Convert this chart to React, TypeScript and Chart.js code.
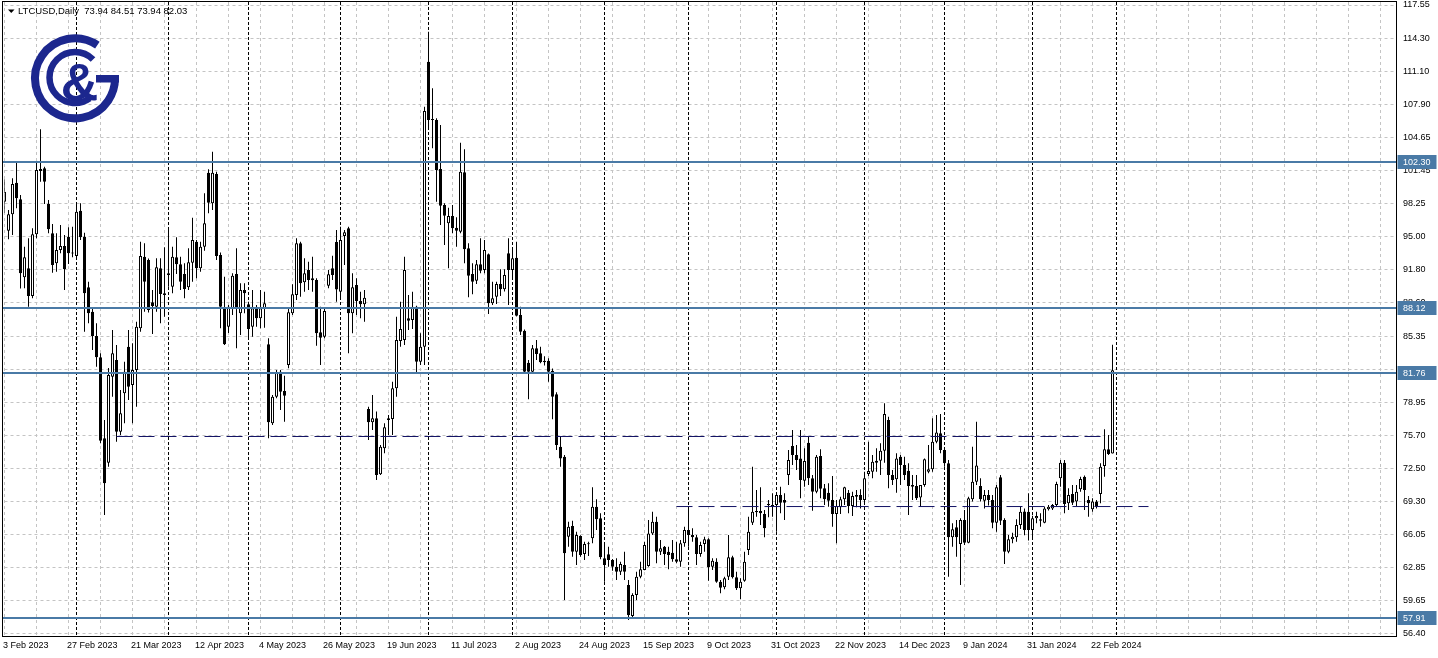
import React, { useEffect, useRef } from 'react';
import { Chart, registerables } from 'chart.js';

Chart.register(...registerables);

// ---- Daily candles LTCUSD, 3 Feb 2023 .. 29 Feb 2024 (weekdays) ----
const OPEN = [
  98.43, 95.6, 97.2, 100.28, 98.66, 91.08, 91.95, 89.26, 95.26, 101.6,
  101.67, 98.2, 95.35, 92.44, 93.73, 94.12, 95.02, 93.45, 93.15, 97.55,
  95.02, 90.1, 87.73, 85.37, 83.3, 75.42, 73.05, 81.42, 83.04, 76.07,
  79.8, 84.33, 80.61, 82.07, 86.12, 93.08, 92.76, 88.64, 88.22, 91.95,
  89.52, 91.3, 90.16, 93.02, 92.34, 91.4, 90.1, 92.5, 94.54, 91.95,
  94.05, 101.25, 98.27, 101.12, 93.25, 88.16, 86.27, 88.06, 91.4, 87.57,
  89.84, 88.45, 86.27, 88.06, 87.09, 88.0, 84.56, 76.88, 79.47, 81.9,
  80.02, 82.55, 87.57, 89.36, 94.38, 90.59, 91.79, 90.98, 90.81, 85.73,
  85.3, 90.26, 91.95, 94.5, 89.68, 95.09, 95.84, 87.57, 90.33, 88.77,
  88.45, 78.27, 76.98, 77.37, 71.93, 74.45, 77.2, 77.3, 80.28, 84.88,
  84.98, 87.09, 86.93, 88.22, 82.87, 84.33, 112.04, 106.47, 106.37, 101.6,
  98.11, 96.33, 97.04, 95.9, 95.51, 101.28, 93.89, 91.4, 90.75, 92.34,
  91.79, 93.31, 88.55, 89.19, 90.43, 89.91, 93.41, 91.79, 92.98, 87.41,
  85.89, 82.78, 81.9, 84.17, 83.69, 82.97, 82.97, 81.99, 79.7, 74.61,
  73.64, 65.86, 66.9, 64.4, 65.92, 64.18, 65.21, 65.7, 68.77, 67.65,
  63.76, 64.14, 63.59, 62.94, 62.46, 63.11, 61.16, 58.14, 60.19, 61.97,
  62.62, 63.0, 66.18, 67.32, 64.4, 64.89, 64.4, 64.3, 63.66, 63.43,
  65.21, 66.51, 66.02, 65.8, 64.18, 65.15, 65.6, 62.94, 63.43, 61.48,
  60.94, 61.97, 63.85, 61.91, 60.84, 61.58, 64.57, 67.22, 68.36, 68.36,
  68.07, 68.94, 68.94, 68.94, 69.91, 69.43, 71.86, 74.67, 73.8, 73.47,
  71.3, 74.99, 71.53, 70.23, 73.7, 70.56, 70.14, 69.43, 68.07, 68.71,
  69.49, 70.14, 68.84, 69.91, 69.91, 69.43, 71.95, 72.18, 73.05, 73.25,
  74.22, 77.2, 71.86, 71.44, 73.64, 72.83, 72.27, 70.88, 70.79, 69.68,
  70.88, 72.18, 72.41, 75.1, 75.91, 74.29, 72.99, 65.8, 66.77, 65.15,
  67.48, 65.28, 69.49, 71.2, 70.79, 69.36, 69.91, 69.43, 67.22, 71.63,
  67.48, 64.4, 65.6, 65.8, 66.99, 68.3, 68.29, 66.5, 67.65, 67.55,
  67.22, 68.52, 68.61, 68.94, 71.53, 73.05, 69.1, 70.01, 69.27, 70.46,
  71.69, 69.43, 68.52, 69.27, 70.01, 72.73, 74.35, 73.94,
];
const HIGH = [
  100.6, 97.62, 100.7, 102.32, 99.08, 94.05, 94.87, 95.84, 102.32, 105.47,
  101.83, 98.59, 96.26, 95.35, 96.16, 95.19, 95.94, 96.0, 98.11, 98.27,
  95.41, 90.65, 88.12, 86.6, 83.69, 77.2, 82.26, 85.95, 84.5, 80.12,
  82.87, 85.95, 84.66, 86.76, 94.54, 94.38, 92.9, 89.84, 92.92, 92.92,
  93.99, 95.67, 94.05, 94.97, 93.08, 92.44, 93.89, 96.87, 94.7, 94.54,
  99.24, 101.58, 103.29, 101.34, 93.5, 91.13, 88.39, 91.46, 93.89, 90.49,
  90.49, 88.7, 89.84, 88.38, 89.84, 89.68, 85.14, 79.63, 82.07, 82.07,
  81.51, 87.99, 90.39, 94.87, 94.54, 92.92, 92.6, 93.08, 90.98, 88.22,
  88.06, 91.79, 93.18, 95.67, 96.0, 95.67, 96.0, 91.46, 90.98, 89.68,
  89.84, 78.5, 79.63, 78.02, 74.77, 76.88, 77.69, 80.93, 87.25, 88.7,
  93.08, 89.36, 89.68, 88.3, 85.63, 107.66, 114.95, 109.45, 106.53, 105.88,
  98.27, 97.84, 98.11, 96.91, 104.16, 103.52, 94.38, 92.44, 92.76, 94.87,
  94.7, 93.4, 90.65, 90.65, 91.85, 91.85, 94.87, 93.89, 94.54, 88.22,
  86.0, 83.04, 84.5, 84.98, 84.33, 83.4, 83.2, 82.2, 79.9, 75.58,
  73.8, 67.32, 67.41, 66.34, 66.0, 65.37, 65.37, 70.66, 69.49, 68.13,
  65.05, 64.89, 63.7, 63.76, 63.43, 64.4, 61.65, 60.35, 62.46, 63.43,
  65.37, 67.48, 68.29, 67.8, 65.54, 64.95, 64.89, 65.54, 65.37, 65.54,
  66.83, 68.77, 66.67, 66.02, 65.37, 65.86, 65.7, 63.76, 63.76, 61.65,
  61.97, 66.02, 64.0, 62.46, 61.81, 64.4, 67.8, 72.66, 70.4, 70.66,
  68.45, 69.43, 70.08, 70.08, 70.72, 70.08, 74.29, 76.23, 74.77, 76.23,
  74.45, 75.58, 71.86, 73.8, 74.35, 70.98, 71.05, 71.76, 69.43, 69.75,
  70.72, 70.4, 70.23, 70.4, 70.46, 72.18, 75.1, 73.8, 74.45, 74.94,
  78.83, 77.52, 72.34, 73.96, 73.8, 73.64, 72.99, 71.86, 71.86, 70.88,
  73.47, 74.77, 77.37, 77.69, 77.79, 74.3, 73.32, 67.16, 67.48, 67.65,
  68.45, 69.75, 74.61, 77.04, 71.53, 70.4, 70.4, 69.91, 70.88, 71.86,
  67.65, 66.02, 66.25, 67.55, 68.84, 68.6, 70.08, 67.9, 68.29, 68.13,
  68.77, 68.94, 69.04, 71.2, 73.32, 73.32, 70.56, 70.88, 70.88, 71.69,
  71.8, 69.81, 69.59, 69.43, 72.99, 76.3, 75.74, 84.51,
];
const LOW = [
  97.36, 94.77, 95.19, 97.79, 90.0, 90.01, 88.22, 89.04, 94.87, 100.37,
  98.2, 95.35, 91.52, 91.62, 93.41, 89.84, 92.37, 93.02, 92.92, 94.7,
  85.79, 86.6, 84.01, 82.39, 74.94, 67.97, 72.66, 79.47, 75.1, 75.74,
  76.88, 79.15, 76.88, 78.5, 85.79, 87.73, 87.65, 85.57, 87.73, 86.6,
  87.25, 90.16, 89.52, 91.4, 89.84, 89.04, 89.84, 90.65, 90.98, 91.62,
  93.66, 97.3, 97.62, 92.76, 86.12, 84.5, 85.66, 87.41, 84.17, 85.47,
  87.57, 84.98, 85.3, 86.27, 86.12, 86.18, 75.42, 76.72, 79.31, 78.18,
  77.04, 82.23, 87.41, 88.87, 89.19, 89.68, 89.84, 89.68, 84.43, 82.55,
  85.14, 90.01, 90.81, 88.7, 88.9, 92.27, 83.69, 85.63, 87.41, 87.09,
  86.76, 75.26, 76.23, 71.37, 71.86, 73.97, 75.74, 75.74, 79.47, 84.33,
  84.5, 85.95, 86.05, 81.74, 82.55, 82.55, 105.4, 103.62, 98.43, 96.16,
  94.22, 91.95, 95.35, 94.05, 95.35, 92.44, 89.13, 89.42, 90.43, 91.46,
  91.46, 87.51, 88.38, 88.48, 89.26, 89.7, 88.38, 91.1, 87.3, 85.47,
  81.8, 79.22, 81.74, 83.04, 82.71, 82.5, 80.93, 77.27, 74.29, 72.66,
  59.7, 64.89, 63.91, 63.11, 63.9, 63.59, 63.97, 65.21, 66.51, 63.66,
  61.48, 62.94, 62.55, 61.65, 62.14, 61.65, 57.76, 57.9, 59.7, 61.81,
  62.6, 62.94, 66.02, 63.27, 64.08, 63.11, 62.69, 63.43, 63.27, 62.94,
  64.89, 64.89, 65.37, 63.11, 63.91, 64.4, 61.58, 62.62, 61.38, 60.35,
  60.74, 61.65, 61.8, 60.68, 59.77, 61.48, 64.08, 67.0, 67.8, 67.0,
  65.8, 67.74, 67.8, 66.34, 68.13, 67.48, 70.88, 72.83, 72.34, 69.59,
  70.72, 70.88, 68.39, 70.08, 69.59, 68.94, 68.77, 66.83, 65.21, 68.07,
  68.94, 68.13, 67.87, 68.71, 68.61, 68.94, 71.76, 71.53, 72.18, 71.86,
  73.05, 70.56, 70.88, 70.14, 70.88, 71.37, 67.97, 69.43, 69.43, 68.77,
  70.72, 72.02, 72.18, 74.94, 73.97, 72.66, 61.97, 64.89, 63.91, 61.16,
  65.05, 65.21, 69.27, 70.88, 69.27, 68.61, 68.9, 66.67, 66.34, 66.99,
  63.2, 64.25, 65.21, 65.37, 66.6, 66.0, 65.5, 65.8, 67.16, 66.83,
  67.16, 68.4, 68.45, 68.77, 70.72, 68.13, 68.45, 68.94, 68.84, 70.23,
  68.45, 67.8, 68.29, 68.61, 69.1, 71.69, 73.8, 73.94,
];
const CLOSE = [
  99.4, 97.2, 100.15, 98.76, 91.46, 93.02, 89.26, 95.26, 101.51, 101.4,
  100.37, 95.74, 92.27, 93.73, 94.12, 91.85, 93.41, 93.4, 97.45, 94.97,
  89.52, 87.57, 85.37, 83.3, 75.19, 71.05, 81.58, 83.69, 76.07, 77.85,
  81.9, 80.44, 82.07, 86.27, 93.15, 90.65, 87.9, 88.29, 92.05, 89.45,
  89.36, 91.46, 93.08, 92.34, 90.65, 89.94, 92.53, 94.7, 91.95, 94.05,
  96.33, 98.33, 101.25, 93.15, 88.22, 84.56, 88.22, 91.23, 88.06, 89.84,
  89.52, 86.05, 88.06, 87.09, 88.06, 88.55, 76.98, 79.47, 81.8, 79.96,
  79.56, 87.67, 89.42, 94.38, 90.49, 91.46, 90.81, 90.78, 85.63, 85.2,
  87.8, 91.37, 91.3, 89.9, 94.7, 95.45, 87.57, 90.1, 88.77, 88.45,
  89.09, 76.98, 77.37, 71.86, 74.61, 76.49, 77.37, 80.28, 84.98, 86.05,
  91.79, 86.86, 88.12, 82.87, 84.33, 107.24, 106.37, 106.37, 101.51, 98.04,
  97.07, 97.04, 95.84, 95.6, 101.34, 93.8, 91.23, 90.65, 92.34, 91.72,
  93.73, 88.55, 89.04, 90.43, 89.91, 91.3, 91.79, 92.92, 87.34, 85.79,
  81.9, 81.9, 84.17, 83.62, 82.81, 82.81, 81.9, 79.47, 74.77, 73.47,
  64.25, 66.83, 64.4, 66.02, 64.08, 65.15, 65.12, 68.77, 67.55, 63.85,
  63.11, 63.59, 62.94, 62.46, 63.2, 62.46, 58.24, 60.19, 61.97, 62.69,
  65.05, 66.18, 67.32, 64.4, 64.73, 64.18, 64.08, 63.66, 63.43, 65.21,
  66.51, 66.02, 65.8, 64.18, 65.05, 65.6, 62.88, 63.53, 61.48, 60.9,
  61.81, 63.85, 61.91, 60.84, 61.48, 63.43, 66.34, 68.29, 68.23, 68.13,
  66.67, 69.04, 68.77, 69.91, 69.17, 69.17, 73.32, 73.8, 73.32, 71.37,
  73.22, 71.53, 70.23, 73.64, 70.52, 69.49, 69.36, 68.07, 68.84, 69.49,
  70.66, 68.84, 69.81, 69.75, 69.43, 71.53, 72.24, 73.15, 73.25, 74.22,
  77.79, 71.86, 71.37, 73.47, 72.83, 71.86, 70.79, 70.72, 69.59, 70.88,
  73.38, 72.41, 75.1, 76.0, 74.29, 72.99, 65.8, 66.58, 65.8, 67.48,
  65.28, 69.59, 71.2, 72.77, 69.49, 69.91, 69.43, 67.22, 70.66, 67.41,
  64.4, 65.6, 65.86, 66.99, 68.29, 66.5, 66.5, 67.65, 67.87, 67.41,
  68.61, 68.77, 68.94, 70.98, 73.05, 69.04, 69.91, 69.17, 70.23, 71.47,
  70.4, 69.1, 69.27, 68.84, 72.66, 74.35, 73.9, 82.03,
];

// bar slots on the time axis (includes the empty space to the right)
const SLOT_COUNT = 349;
const SLOTS = Array.from({ length: SLOT_COUNT }, (_, i) => String(i));

// date labels, one every 16 bars
const LABEL_EVERY = 16;
const TICK_LABELS = [
  '3 Feb 2023', '27 Feb 2023', '21 Mar 2023', '12 Apr 2023', '4 May 2023',
  '26 May 2023', '19 Jun 2023', '11 Jul 2023', '2 Aug 2023', '24 Aug 2023',
  '15 Sep 2023', '9 Oct 2023', '31 Oct 2023', '22 Nov 2023', '14 Dec 2023',
  '9 Jan 2024', '31 Jan 2024', '22 Feb 2024',
];
const GRID_EVERY = 8;
const GRID_SLOTS = Array.from({ length: Math.floor((SLOT_COUNT - 1) / GRID_EVERY) + 1 }, (_, k) => k * GRID_EVERY);

// first bar of each month (period separators)
const MONTH_STARTS = [18, 41, 61, 84, 106, 127, 150, 171, 193, 215, 235, 257, 278];

// price axis
const Y_MIN = 56.204;
const Y_MAX = 117.842;
const Y_TICKS = [117.55, 114.3, 111.1, 107.9, 104.65, 101.45, 98.25, 95.0, 91.8, 88.6,
  85.35, 82.15, 78.95, 75.7, 72.5, 69.3, 66.05, 62.85, 59.65, 56.4];

// horizontal levels (solid) and dashed trend segments
const LEVELS = [102.3, 88.12, 81.76, 57.91];
const TREND_PRICE = [75.6, 68.79];
const TREND_FROM = [28, 168];
const TREND_TO = [274, 286];

const HEADER = 'LTCUSD,Daily  73.94 84.51 73.94 82.03';

const FONT = 'Liberation Sans';
const GRID_GRAY = '#c4c4c4';
const LEVEL_BLUE = '#4a7aa6';
const TREND_NAVY = '#121265';
const LOGO_BLUE = '#1c278e';

const overlay = {
  id: 'mt4overlay',
  beforeDatasetsDraw(chart: any) {
    const { ctx, chartArea, scales } = chart;
    ctx.save();
    ctx.strokeStyle = '#000';
    ctx.lineWidth = 1;
    ctx.setLineDash([3, 2]);
    MONTH_STARTS.forEach((idx) => {
      const x = Math.floor(scales.x.getPixelForValue(idx)) + 0.5;
      ctx.beginPath();
      ctx.moveTo(x, chartArea.top);
      ctx.lineTo(x, chartArea.bottom);
      ctx.stroke();
    });
    ctx.restore();
  },
  afterDatasetsDraw(chart: any) {
    const { ctx, chartArea, scales } = chart;
    ctx.save();
    ctx.strokeStyle = LEVEL_BLUE;
    ctx.lineWidth = 2;
    LEVELS.forEach((p) => {
      const y = Math.round(scales.y.getPixelForValue(p));
      ctx.beginPath();
      ctx.moveTo(2.5, y);
      ctx.lineTo(chartArea.right, y);
      ctx.stroke();
    });
    ctx.restore();
  },
  afterDraw(chart: any) {
    const { ctx, chartArea, scales } = chart;
    ctx.save();
    // frame
    ctx.strokeStyle = '#000';
    ctx.lineWidth = 1;
    ctx.strokeRect(2.5, 1.5, chartArea.right - 2.5, chartArea.bottom + 0.5 - 1.5);
    // level price boxes
    ctx.font = `9px "${FONT}"`;
    ctx.textBaseline = 'middle';
    ctx.textAlign = 'left';
    LEVELS.forEach((p) => {
      const y = Math.round(scales.y.getPixelForValue(p));
      ctx.fillStyle = LEVEL_BLUE;
      ctx.fillRect(chartArea.right + 1, y - 7, 39, 14);
      ctx.fillStyle = '#ffffff';
      ctx.fillText(p.toFixed(2), chartArea.right + 6.5, y + 0.5);
    });
    // header
    ctx.fillStyle = '#000';
    ctx.beginPath();
    ctx.moveTo(8, 9.5);
    ctx.lineTo(14.5, 9.5);
    ctx.lineTo(11.25, 13);
    ctx.closePath();
    ctx.fill();
    ctx.font = `9.5px "${FONT}"`;
    ctx.textBaseline = 'alphabetic';
    ctx.fillText(HEADER, 18, 14);
    // logo
    const d = Math.PI / 180;
    ctx.strokeStyle = LOGO_BLUE;
    ctx.fillStyle = LOGO_BLUE;
    ctx.lineWidth = 8;
    ctx.beginPath();
    ctx.arc(75, 78.3, 40, -56 * d, 0, true);
    ctx.stroke();
    ctx.fillRect(96, 75, 23, 7.5);
    ctx.lineWidth = 6.5;
    ctx.beginPath();
    ctx.arc(75, 77.5, 25.5, -45 * d, 55 * d, true);
    ctx.stroke();
    ctx.font = `bold 52px "${FONT}"`;
    ctx.textAlign = 'center';
    ctx.fillText('&', 79.5, 100);
    ctx.restore();
  },
};

export default function App() {
  const ref = useRef<HTMLCanvasElement>(null);
  useEffect(() => {
    const canvas = ref.current;
    if (!canvas) return;
    const bull = CLOSE.map((c, i) => c >= OPEN[i]);
    const bodies = OPEN.map((o, i) => [Math.min(o, CLOSE[i]), Math.max(o, CLOSE[i])]);
    const wicks = LOW.map((l, i) => [l, HIGH[i]]);
    const trend = (k: number) => SLOTS.map((_, i) => (i === TREND_FROM[k] || i === TREND_TO[k] ? TREND_PRICE[k] : null));
    const lineDs = (k: number) => ({
      type: 'line',
      data: trend(k),
      borderColor: TREND_NAVY,
      borderWidth: 1,
      borderDash: [16, 6],
      pointRadius: 0,
      spanGaps: true,
      fill: false,
      order: 0,
    });
    const chart = new Chart(canvas, {
      type: 'bar',
      data: {
        labels: SLOTS,
        datasets: [
          lineDs(0),
          lineDs(1),
          {
            type: 'bar',
            data: bodies,
            backgroundColor: bull.map((b) => (b ? '#ffffff' : '#000000')),
            borderColor: '#000000',
            borderWidth: 1,
            borderSkipped: false,
            barThickness: 3,
            grouped: false,
            minBarLength: 1,
            inflateAmount: 0,
            order: 1,
          },
          {
            type: 'bar',
            data: wicks,
            backgroundColor: '#000000',
            borderWidth: 0,
            barThickness: 1,
            grouped: false,
            inflateAmount: 0,
            order: 2,
          },
        ] as any,
      },
      options: {
        responsive: false,
        animation: false,
        devicePixelRatio: 1,
        events: [],
        layout: { padding: { left: 4.5, top: 2, right: 0, bottom: 0 } },
        plugins: { legend: { display: false }, tooltip: { enabled: false } },
        scales: {
          x: {
            type: 'category',
            offset: false,
            grid: { offset: false, color: GRID_GRAY, lineWidth: 1, drawTicks: false },
            border: { display: false, dash: [3, 3] },
            afterBuildTicks: (s: any) => {
              s.ticks = GRID_SLOTS.map((v) => ({ value: v }));
            },
            afterFit: (s: any) => {
              s.height = 22;
              s.paddingLeft = 0;
              s.paddingRight = 0;
            },
            ticks: {
              autoSkip: false,
              maxRotation: 0,
              minRotation: 0,
              align: 'start',
              labelOffset: -1.5,
              padding: 4,
              color: '#000',
              font: { family: FONT, size: 9 },
              callback: (v: any) => {
                const i = Number(v);
                return i % LABEL_EVERY === 0 ? TICK_LABELS[i / LABEL_EVERY] ?? '' : '';
              },
            },
          },
          y: {
            type: 'linear',
            position: 'right',
            min: Y_MIN,
            max: Y_MAX,
            grid: { color: GRID_GRAY, lineWidth: 1, drawTicks: false },
            border: { display: false, dash: [3, 3] },
            afterBuildTicks: (s: any) => {
              s.ticks = Y_TICKS.map((v) => ({ value: v }));
            },
            afterFit: (s: any) => {
              s.width = 41.5;
              s.paddingTop = 0;
              s.paddingBottom = 0;
            },
            ticks: {
              autoSkip: false,
              padding: 6.5,
              color: '#000',
              font: { family: FONT, size: 9 },
              callback: (v: any) => Number(v).toFixed(2),
            },
          },
        },
      } as any,
      plugins: [overlay],
    });
    return () => chart.destroy();
  }, []);
  return (
    <div style={{ position: 'fixed', left: 0, top: 0, width: 1438, height: 658, background: '#fff' }}>
      <canvas ref={ref} width={1438} height={658} style={{ display: 'block', width: 1438, height: 658 }} />
    </div>
  );
}
